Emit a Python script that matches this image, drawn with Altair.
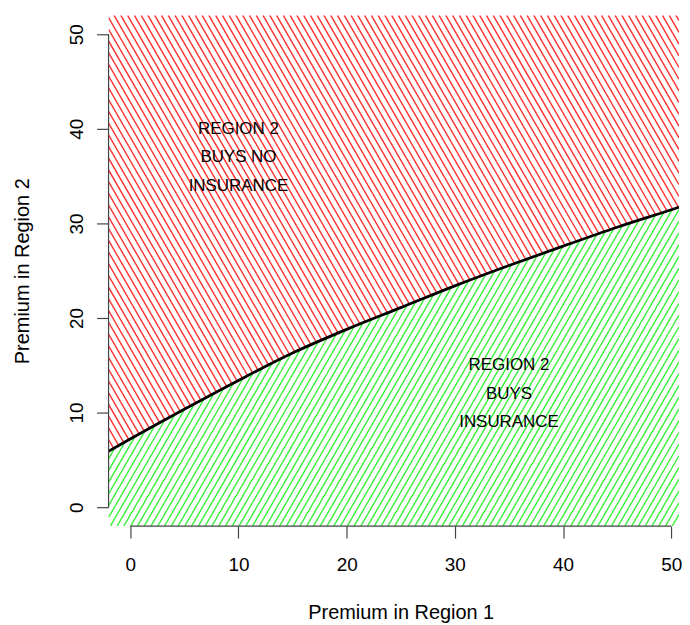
import numpy as np
import pandas as pd
import altair as alt

# ---- values ----
curve_x = [-2, 0, 5, 10, 15, 20, 25, 30, 35, 40, 45, 50, 52]
curve_y = [5.9, 7.2, 10.35, 13.4, 16.3, 18.8, 21.1, 23.4, 25.55, 27.6, 29.6, 31.45, 32.2]

tick_values = [0, 10, 20, 30, 40, 50]

label_x = [10, 10, 10, 35, 35, 35]
label_y = [40, 37, 34, 15, 12, 9]
label_text = ["REGION 2", "BUYS NO", "INSURANCE", "REGION 2", "BUYS", "INSURANCE"]

# ---- layout / style ----
X_MIN, X_MAX = -2, 50.71
Y_MIN, Y_MAX = -2, 52
W, H = 573, 513
FONT = "Liberation Sans"
AXIS_COLOR = "#444444"

# ---- hatching geometry (clipped to the two regions) ----
px_per_x = W / (X_MAX - X_MIN)
px_per_y = H / (Y_MAX - Y_MIN)
m = np.tan(np.radians(60)) * px_per_x / px_per_y   # hatch slope in data units
gap_x = 6.8 / px_per_x                              # horizontal spacing between hatch lines
dc = m * gap_x

xs = np.linspace(X_MIN, X_MAX, 6000)
fx = np.interp(xs, curve_x, curve_y)

rows = []
# red "\" lines above the curve: y = c - m x
for c in np.arange(fx[0] + m * X_MIN, Y_MAX + m * X_MAX + dc, dc):
    g = c - m * xs - fx
    xstar = np.interp(0.0, g[::-1], xs[::-1])
    lo = max(X_MIN, (c - Y_MAX) / m)
    hi = min(X_MAX, xstar)
    if hi > lo:
        rows.append(dict(x=lo, y=c - m * lo, x2=hi, y2=c - m * hi, region="no"))
# green "/" lines below the curve: y = c + m x
for c in np.arange(Y_MIN - m * X_MAX, fx[0] - m * X_MIN + dc, dc):
    h = c + m * xs - fx
    xstar = np.interp(0.0, h, xs)
    lo = max(X_MIN, (Y_MIN - c) / m)
    hi = min(X_MAX, xstar)
    if hi > lo:
        rows.append(dict(x=lo, y=c + m * lo, x2=hi, y2=c + m * hi, region="yes"))
hatch = pd.DataFrame(rows)

curve = pd.DataFrame({"x": curve_x, "y": curve_y})
labels = pd.DataFrame({"x": label_x, "y": label_y, "text": label_text})
xaxis_line = pd.DataFrame({"x": [tick_values[0]], "x2": [tick_values[-1]], "y": [Y_MIN]})
yaxis_line = pd.DataFrame({"y": [tick_values[0]], "y2": [tick_values[-1]], "x": [X_MIN]})

xscale = alt.Scale(domain=[X_MIN, X_MAX], nice=False, zero=False)
yscale = alt.Scale(domain=[Y_MIN, Y_MAX], nice=False, zero=False)

x_axis = alt.Axis(
    values=tick_values, domain=False, grid=False, tickSize=12, tickColor=AXIS_COLOR,
    tickWidth=1.2, labelFont=FONT, labelFontSize=19, labelColor="black",
    labelBaseline="alphabetic", labelPadding=33, labelFlush=False,
    title="Premium in Region 1", titleFont=FONT, titleFontSize=20,
    titleFontWeight="normal", titleColor="black", titleBaseline="alphabetic",
    titleX=293.5, titleY=93, titleAlign="center",
)
y_axis = alt.Axis(
    values=tick_values, domain=False, grid=False, tickSize=12, tickColor=AXIS_COLOR,
    tickWidth=1.2, labelFont=FONT, labelFontSize=19, labelColor="black",
    labelAngle=270, labelAlign="center", labelBaseline="alphabetic",
    labelPadding=14, labelFlush=False,
    title="Premium in Region 2", titleFont=FONT, titleFontSize=20,
    titleFontWeight="normal", titleColor="black", titleAngle=270,
    titleBaseline="alphabetic", titleAlign="center", titleX=-80, titleY=H / 2,
)

hatch_layer = alt.Chart(hatch).mark_rule(strokeWidth=1.4, opacity=0.9, clip=True).encode(
    x=alt.X("x:Q", scale=xscale, axis=x_axis),
    y=alt.Y("y:Q", scale=yscale, axis=y_axis),
    x2="x2:Q",
    y2="y2:Q",
    color=alt.Color("region:N", scale=alt.Scale(domain=["no", "yes"],
                                                range=["#ff1a1a", "#22ee22"]), legend=None),
)

curve_layer = alt.Chart(curve).mark_line(
    color="black", strokeWidth=2.8, clip=True, interpolate="monotone"
).encode(x="x:Q", y="y:Q")

text_layer = alt.Chart(labels).mark_text(
    font=FONT, fontSize=17, color="black", align="center", baseline="middle"
).encode(x="x:Q", y="y:Q", text="text:N")

xline_layer = alt.Chart(xaxis_line).mark_rule(color=AXIS_COLOR, strokeWidth=1.2).encode(
    x="x:Q", x2="x2:Q", y="y:Q"
)
yline_layer = alt.Chart(yaxis_line).mark_rule(color=AXIS_COLOR, strokeWidth=1.2).encode(
    y="y:Q", y2="y2:Q", x="x:Q"
)

chart = alt.layer(
    hatch_layer, curve_layer, text_layer, xline_layer, yline_layer
).properties(
    width=W, height=H,
    autosize=alt.AutoSizeParams(type="none"),
    padding={"left": 101, "top": 6, "right": 3, "bottom": 104},
    background="white",
).configure_view(stroke=None)

chart.save("out.html", embed_options={"renderer": "svg", "actions": False})
